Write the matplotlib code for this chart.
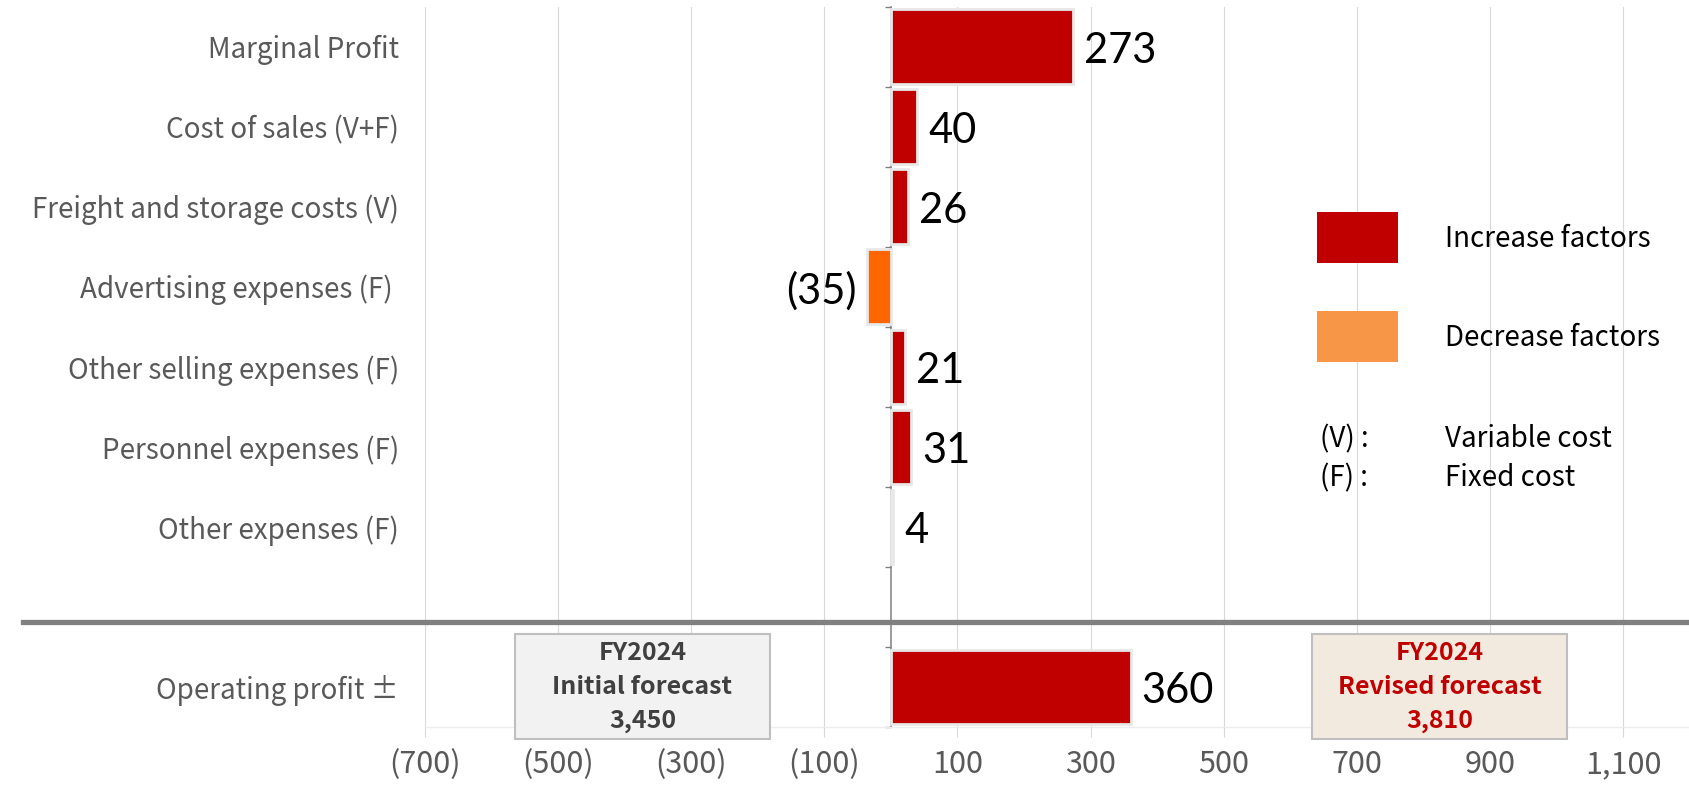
import numpy as np
import matplotlib
matplotlib.use("Agg")
import matplotlib.pyplot as plt
from matplotlib.patches import Rectangle
from matplotlib.lines import Line2D

# ---- data ----
categories = ["Marginal Profit", "Cost of sales (V+F)", "Freight and storage costs (V)",
              "Advertising expenses (F) ", "Other selling expenses (F)",
              "Personnel expenses (F)", "Other expenses (F)", "", "Operating profit \u00b1"]
values = [273, 40, 26, -35, 21, 31, 4, None, 360]
x_ticks = [-700, -500, -300, -100, 100, 300, 500, 700, 900, 1100]
x_tick_labels = ["(700)", "(500)", "(300)", "(100)", "100", "300", "500", "700", "900", "1,100"]
initial_forecast = 3450
revised_forecast = 3810
legend_labels = ["Increase factors", "Decrease factors"]
note_keys = ["(V) :", "(F) :"]
note_texts = ["Variable cost", "Fixed cost"]

INC = "#C00000"
DEC = "#FF6600"
DEC_LEG = "#F79646"
GRAY_TXT = "#595959"
CAT_FONT = ["Noto Sans CJK JP", "DejaVu Sans"]
NUM_FONT = ["Lato", "DejaVu Sans"]

W, H = 1690, 785
fig = plt.figure(figsize=(W / 100, H / 100), dpi=100)
ax_left, ax_right, ax_top, ax_bot = 424.6, 1690, 6.5, 727
ax = fig.add_axes([ax_left / W, 1 - ax_bot / H, (ax_right - ax_left) / W, (ax_bot - ax_top) / H])

pos = np.arange(len(categories))
idx = [i for i, v in enumerate(values) if v is not None]
vals = [values[i] for i in idx]
cols = [INC if v >= 0 else DEC for v in vals]
bars = ax.barh([pos[i] for i in idx], vals, height=0.93, color=cols,
               edgecolor="#E8E8E8", linewidth=2, zorder=3)

def fmt(v):
    return f"({abs(v):,})" if v < 0 else f"{v:,}"

anns = ax.bar_label(bars, labels=[fmt(v) for v in vals], padding=8,
                    fontsize=30, family=NUM_FONT, color="black")
for a in anns:
    a.xyann = (a.xyann[0], -3)

ax.set_xlim(-700, 1200)
ax.set_ylim(len(categories) - 0.5, -0.5)
ax.set_xticks(x_ticks, x_tick_labels)
ax.set_yticks(pos, categories)
ax.tick_params(axis="y", length=0, pad=18.5, labelsize=20, labelcolor=GRAY_TXT)
ax.tick_params(axis="x", length=7, width=0.8, color="#D9D9D9", pad=9,
               labelsize=22, labelcolor=GRAY_TXT)
for lab in ax.get_yticklabels() + ax.get_xticklabels():
    lab.set_family(CAT_FONT)
ax.xaxis.grid(True, color="#D9D9D9", linewidth=0.8)
ax.set_axisbelow(True)
for s in ["left", "right", "top"]:
    ax.spines[s].set_visible(False)
ax.spines["bottom"].set_color("#EDEDED")
ax.spines["bottom"].set_linewidth(1)

# zero axis with category-boundary ticks
sec = ax.secondary_yaxis(700 / 1900)
sec.set_yticks(np.arange(len(categories) + 1) - 0.5)
sec.tick_params(axis="y", length=4, width=1, color="#808080", labelleft=False)
sec.spines["left"].set_color("#808080")
sec.spines["left"].set_linewidth(1.1)

# separator line
sep_y = 1 - 621.5 / H
fig.add_artist(Line2D([23 / W, 1], [sep_y, sep_y], color="#808080", linewidth=3.8,
                      transform=fig.transFigure))

# forecast boxes
op = len(categories) - 1
def fbox(x0, x1, face, tcol, lines):
    ax.add_patch(Rectangle((x0, op - 0.66), x1 - x0, 1.31, facecolor=face,
                           edgecolor="#BFBFBF", linewidth=1.5, clip_on=False, zorder=4))
    for k, t in enumerate(lines):
        ax.text((x0 + x1) / 2, op + (k - 1) * 0.43, t, ha="center", va="center",
                fontsize=18, fontweight="bold", color=tcol, family=CAT_FONT,
                zorder=5, clip_on=False)

fbox(-564, -182, "#F2F2F2", "#404040",
     ["FY2024", "Initial forecast", f"{initial_forecast:,}"])
fbox(633, 1016, "#F2EADF", INC,
     ["FY2024", "Revised forecast", f"{revised_forecast:,}"])

# legend
leg_cols = [INC, DEC_LEG]
leg_y = [212, 311]
for c, y, t in zip(leg_cols, leg_y, legend_labels):
    fig.add_artist(Rectangle((1317 / W, 1 - (y + 51) / H), 81 / W, 51 / H,
                             facecolor=c, edgecolor="none", transform=fig.transFigure))
    fig.text(1445 / W, 1 - (y + 27) / H, t, ha="left", va="center", fontsize=20,
             family=CAT_FONT, color="black")
for k, (a, b) in enumerate(zip(note_keys, note_texts)):
    yy = 1 - (439 + k * 39.5) / H
    fig.text(1320 / W, yy, a, ha="left", va="center", fontsize=20, family=CAT_FONT, color="black")
    fig.text(1445 / W, yy, b, ha="left", va="center", fontsize=20, family=CAT_FONT, color="black")

fig.savefig("out.png", dpi=100, facecolor="white")
